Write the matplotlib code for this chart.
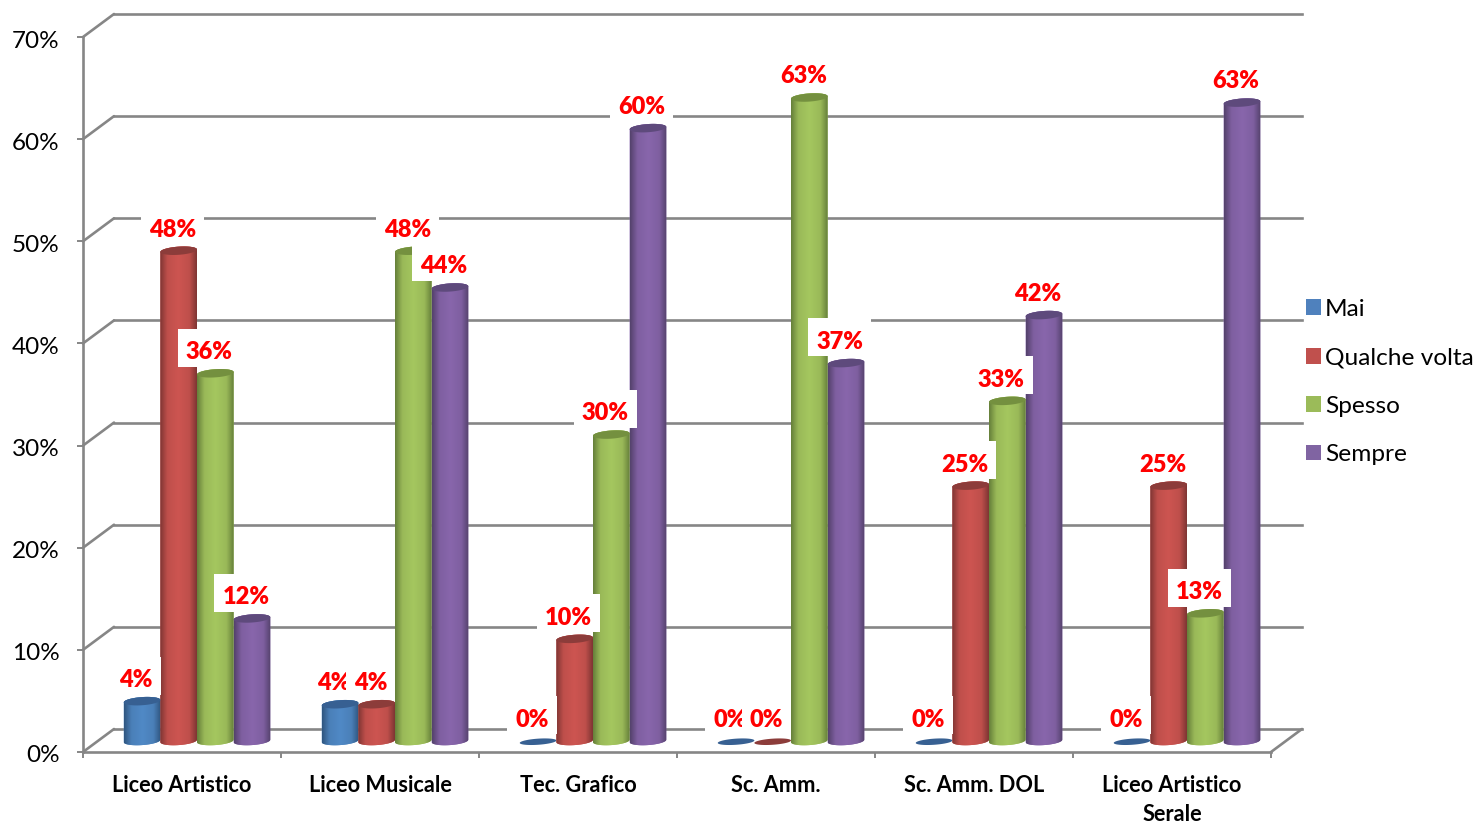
import numpy as np
import matplotlib
matplotlib.use('Agg')
import matplotlib.pyplot as plt
from matplotlib.patches import ConnectionPatch, Patch, PathPatch
from matplotlib.path import Path
from matplotlib.transforms import Affine2D
from matplotlib.colors import to_rgb

plt.rcParams['font.family'] = ['Lato', 'DejaVu Sans']

# Data
categories = ['Liceo Artistico', 'Liceo Musicale', 'Tec. Grafico', 'Sc. Amm.',
              'Sc. Amm. DOL', 'Liceo Artistico\nSerale']
series_names = ['Mai', 'Qualche volta', 'Spesso', 'Sempre']
mai = [3.9, 3.6, 0, 0, 0, 0]
qualche_volta = [48, 3.6, 10, 0, 25, 25]
spesso = [36, 48, 30, 63, 33.3, 12.5]
sempre = [12, 44.4, 60, 37, 41.7, 62.5]
mai_labels = ['4%', '4%', '0%', '0%', '0%', '0%']
qualche_labels = ['48%', '4%', '10%', '0%', '25%', '25%']
spesso_labels = ['36%', '48%', '30%', '63%', '33%', '13%']
sempre_labels = ['12%', '44%', '60%', '37%', '42%', '63%']
y_ticks = [0, 10, 20, 30, 40, 50, 60, 70]

all_values = [mai, qualche_volta, spesso, sempre]
all_labels = [mai_labels, qualche_labels, spesso_labels, sempre_labels]
legend_colors = ['#4F81BD', '#C0504D', '#9BBB59', '#8064A2']
body_colors = ['#5089C6', '#CD5551', '#A5C75F', '#8866AC']
edge_colors = ['#2F5680', '#7F3533', '#66803A', '#54426C']
top_colors = ['#376092', '#8C3C3A', '#74903F', '#5E4A7C']
grid_color = '#868686'

W, H = 1479, 823
fig = plt.figure(figsize=(W / 100, H / 100), dpi=100)
ax = fig.add_axes([83 / W, (H - 752) / H, 1188 / W, 715 / H])

# offsets for the fake 3D depth, in pixels
back = ax.transData + Affine2D().translate(31, 23)
mid = ax.transData + Affine2D().translate(15, 11)

# walls and floor
for v in y_ticks:
    ax.plot([0, 6], [v, v], color=grid_color, lw=1.9, transform=back, clip_on=False, zorder=1)
    fig.add_artist(ConnectionPatch((0, v), (0, v), coordsA=ax.transData, coordsB=back,
                                   color=grid_color, lw=1.9, zorder=0.5))
ax.add_artist(ConnectionPatch((6, 0), (6, 0), coordsA=ax.transData, coordsB=back,
                              color=grid_color, lw=1.9, zorder=1))

bar_w = 0.185
start = 0.130
ry = 0.4     # ellipse half height, in axis units
tilt = 0.12
t_full = np.linspace(0, 2 * np.pi, 60)
t_low = np.linspace(np.pi, 2 * np.pi, 30)
t_up = np.linspace(0, np.pi, 30)


def ring(cx, v, t, h=ry):
    return np.column_stack([cx + bar_w / 2 * np.cos(t), v + h * np.sin(t) + tilt * np.cos(t)])


def shading(body, edge):
    pos = np.linspace(0, 1, 80)
    stops = [0, 0.2, 0.5, 0.8, 1]
    b, e = np.array(to_rgb(body)), np.array(to_rgb(edge))
    cols = [e, b * 0.93, b, b * 0.93, e]
    rgb = np.stack([np.interp(pos, stops, [c[k] for c in cols]) for k in range(3)], axis=-1)
    return rgb[np.newaxis, :, :]


def draw_cylinder(cx, v, s):
    if v == 0:
        # empty bar, only a thin disc on the floor
        xy = ring(cx, -0.07, t_full, h=0.3)
        ax.add_patch(PathPatch(Path(xy), fc=top_colors[s], ec='none', transform=mid,
                               zorder=3, clip_on=False))
        return
    outline = np.vstack([ring(cx, 0, t_low), ring(cx, v, t_up)])
    body = PathPatch(Path(outline), fc=body_colors[s], ec='none', transform=mid, zorder=3)
    ax.add_patch(body)
    im = ax.imshow(shading(body_colors[s], edge_colors[s]), aspect='auto', zorder=3.1,
                   extent=[cx - bar_w / 2, cx + bar_w / 2, -ry * 2, v + ry * 2],
                   transform=mid, interpolation='bilinear')
    im.set_clip_path(body)
    ax.add_patch(PathPatch(Path(ring(cx, v, t_full)), fc=top_colors[s], ec='none',
                           transform=mid, zorder=3.2))


def label_box(x0, y0, width, height, mutation_size):
    # white box reaches further up than down, so it stays off the bar top
    x1, y1 = x0 - 8, y0 - 3.5
    x2, y2 = x0 + width + 8, y0 + height + 12.5
    return Path([(x1, y1), (x2, y1), (x2, y2), (x1, y2), (x1, y1)], closed=True)


for c in range(len(categories)):
    for s in range(len(series_names)):
        draw_cylinder(c + start + bar_w * (s + 0.5), all_values[s][c], s)

# data labels, white box on top of everything
for s in range(len(series_names)):
    for c in range(len(categories)):
        cx = c + start + bar_w * (s + 0.5)
        ax.annotate(all_labels[s][c], (cx, all_values[s][c]), xycoords=mid,
                    xytext=(-4.4, 15.2), textcoords='offset points', ha='center', va='center',
                    color='#FF0000', fontsize=17, fontweight='heavy', zorder=10 + s,
                    bbox=dict(boxstyle=label_box, facecolor='white', edgecolor='none'))

ax.set_xlim(0, 6)
ax.set_ylim(0, 70)
ax.set_xticks(range(7))
ax.set_xticklabels([])
ax.set_xticks(np.arange(6) + 0.5, labels=categories, minor=True, fontweight='bold',
              fontsize=15.7, linespacing=1.45)
ax.set_yticks(y_ticks, labels=[f'{v}%' for v in y_ticks], fontsize=17.5)
ax.tick_params(axis='x', which='major', length=4.5, width=1.4, color=grid_color)
ax.tick_params(axis='x', which='minor', length=0, pad=16.5)
ax.tick_params(axis='y', length=4.5, width=1.4, color=grid_color, pad=12.5)
for label in ax.get_yticklabels():
    label.set_transform(label.get_transform() + Affine2D().translate(0, -2))
for side in ['top', 'right']:
    ax.spines[side].set_visible(False)
for side in ['left', 'bottom']:
    ax.spines[side].set_color(grid_color)
    ax.spines[side].set_linewidth(1.9)
ax.patch.set_alpha(0)

handles = [Patch(facecolor=col, edgecolor='none') for col in legend_colors]
fig.legend(handles, series_names, loc='center left', bbox_to_anchor=(1286 / W, (H - 382) / H),
           frameon=False, fontsize=17.6, handlelength=0.62, handleheight=0.62,
           handletextpad=0.18, labelspacing=1.12, borderpad=0.3)

fig.savefig('out.png', dpi=100, facecolor='white')
